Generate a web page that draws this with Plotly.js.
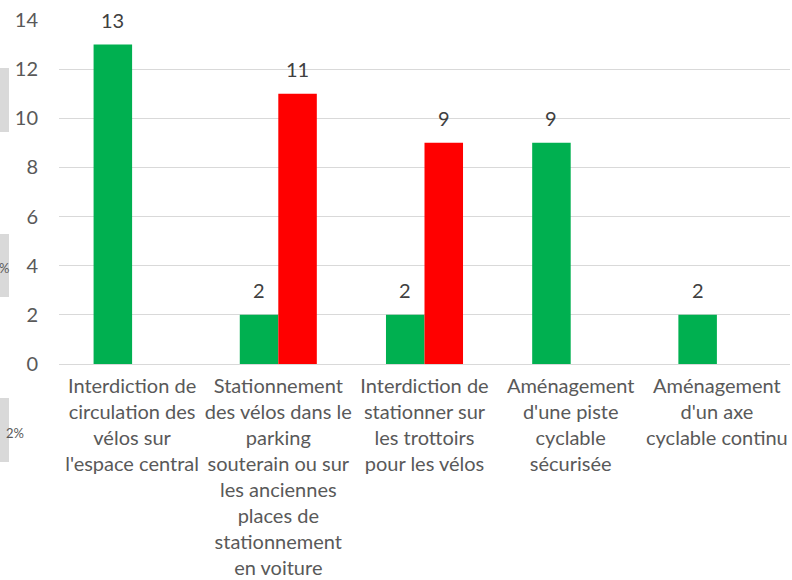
<!DOCTYPE html>
<html>
<head>
<meta charset="utf-8">
<script src="https://cdn.plot.ly/plotly-3.0.1.min.js"></script>
<style>html,body{margin:0;padding:0;background:#fff;}#chart{width:792px;height:580px;}</style>
</head>
<body>
<div id="chart"></div>
<script>
const categories = [
  "Interdiction de<br>circulation des<br>vélos sur<br>l'espace central",
  "Stationnement<br>des vélos dans le<br>parking<br>souterain ou sur<br>les anciennes<br>places de<br>stationnement<br>en voiture",
  "Interdiction de<br>stationner sur<br>les trottoirs<br>pour les vélos",
  "Aménagement<br>d'une piste<br>cyclable<br>sécurisée",
  "Aménagement<br>d'un axe<br>cyclable continu"
];
const greenValues = [13, 2, 2, 9, 2];
const redValues = [null, 11, 9, null, null];
const yTicks = [0, 2, 4, 6, 8, 10, 12, 14];

const font = "Lato, 'Open Sans', sans-serif";
const L = 59, W = 731;
function px(x){ return (x - L) / W; }
const T = 20, H = 344;
function py(y){ return 1 - (y - T) / H; }

const traces = [
  {type:'bar', x:categories, y:greenValues, marker:{color:'#00b050'}, hoverinfo:'none'},
  {type:'bar', x:categories, y:redValues, marker:{color:'#ff0000'}, hoverinfo:'none'}
];

const labelFont = {family:font, size:20, color:'#404040'};
const annotations = [];
[[greenValues, -19.3], [redValues, 19.3]].forEach(([vals, dx]) => {
  vals.forEach((v, i) => {
    if (v === null) return;
    annotations.push({xref:'x', yref:'y', x:categories[i], y:v, text:String(v),
      showarrow:false, xanchor:'center', yanchor:'middle', xshift:dx, yshift:25, font:labelFont});
  });
});

const boxes = [[68,132],[234,297],[398,462]];
const shapes = boxes.map(b => ({type:'rect', xref:'paper', yref:'paper',
  x0:px(-2), x1:px(9), y0:py(b[1]), y1:py(b[0]),
  fillcolor:'#d9d9d9', line:{width:0}, layer:'above'}));
annotations.push(
  {xref:'paper', yref:'paper', x:px(4), y:py(268), text:'%', showarrow:false,
   xanchor:'center', yanchor:'middle', font:{family:font, size:13, color:'#595959'}},
  {xref:'paper', yref:'paper', x:px(15), y:py(433), text:'2%', showarrow:false,
   xanchor:'center', yanchor:'middle', font:{family:font, size:13, color:'#595959'}}
);

const layout = {
  width:792, height:580,
  margin:{l:59, r:2, t:20, b:216},
  paper_bgcolor:'#fff', plot_bgcolor:'#fff',
  showlegend:false,
  barmode:'group', bargap:0.473, bargroupgap:0,
  font:{family:font, color:'#595959'},
  xaxis:{type:'category', tickfont:{family:font, size:20, color:'#595959'},
    showgrid:false, showline:false, zeroline:false, ticks:'', ticklabelstandoff:8,
    tickangle:0, automargin:false},
  yaxis:{range:[0,14], tickvals:yTicks, tickfont:{family:font, size:20, color:'#595959'},
    showgrid:true, gridcolor:'#d9d9d9', gridwidth:1, zeroline:true, zerolinecolor:'#d9d9d9',
    zerolinewidth:1, showline:false, ticks:'', ticklabelstandoff:20, automargin:false},
  shapes:shapes,
  annotations:annotations
};
Plotly.newPlot('chart', traces, layout, {displayModeBar:false, staticPlot:true});
</script>
</body>
</html>
